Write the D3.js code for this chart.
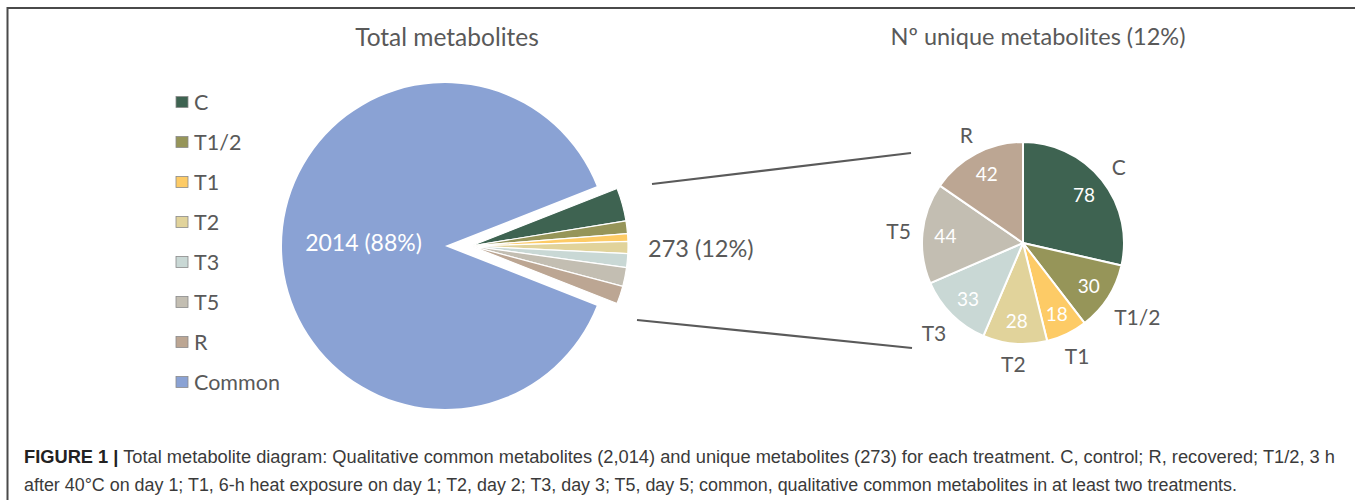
<!DOCTYPE html>
<html>
<head>
<meta charset="utf-8">
<script src="https://cdn.jsdelivr.net/npm/d3@7"></script>
<style>
  html, body { margin: 0; padding: 0; background: #fff; }
  svg { display: block; }
</style>
</head>
<body>
<svg id="chart" width="1355" height="500"></svg>
<script>
// ---------- data ----------
const categories = ["C", "T1/2", "T1", "T2", "T3", "T5", "R"];
const uniqueValues = [78, 30, 18, 28, 33, 44, 42];
const commonCategory = "Common";
const commonValue = 2014;
const legendLabels = ["C", "T1/2", "T1", "T2", "T3", "T5", "R", "Common"];
const titles = ["Total metabolites", "Nº unique metabolites"];
const captionBold = "FIGURE 1 |";
const captionLines = [
  " Total metabolite diagram: Qualitative common metabolites (2,014) and unique metabolites (273) for each treatment. C, control; R, recovered; T1/2, 3 h",
  "after 40°C on day 1; T1, 6-h heat exposure on day 1; T2, day 2; T3, day 3; T5, day 5; common, qualitative common metabolites in at least two treatments."
];

// ---------- styles ----------
const palette = ["#3e6351", "#969559", "#fdcb66", "#e1d39b", "#c9d8d5", "#c3beb2", "#bca693"];
const commonColor = "#8aa2d4";
const textColor = "#595959";
const font = "Lato, 'Open Sans', sans-serif";

const svg = d3.select("#chart");

// frame
svg.append("path").attr("d", "M7.5,500 V8 H1355")
  .attr("fill", "none").attr("stroke", "#4a4a4a").attr("stroke-width", 2);

const uniqueTotal = d3.sum(uniqueValues);
const total = uniqueTotal + commonValue;
const pct = v => Math.round(v / total * 100) + "%";

// ---------- left pie ----------
const L = { cx: 445, cy: 246, rCommon: 163, rUnique: 157, explode: 26 };
const leftData = uniqueValues.map((v, i) => ({ name: categories[i], value: v, color: palette[i], unique: true }))
  .concat([{ name: commonCategory, value: commonValue, color: commonColor, unique: false }]);
const uniqueSpan = uniqueTotal / total * 2 * Math.PI;
const a0 = Math.PI / 2 - uniqueSpan / 2;
const leftPie = d3.pie().sort(null).value(d => d.value).startAngle(a0).endAngle(a0 + 2 * Math.PI);
const leftArcs = leftPie(leftData);
const arcCommon = d3.arc().innerRadius(0).outerRadius(L.rCommon);
const arcUnique = d3.arc().innerRadius(0).outerRadius(L.rUnique);
const midU = a0 + uniqueSpan / 2;
const ux = L.cx + L.explode * Math.sin(midU), uy = L.cy - L.explode * Math.cos(midU);

const gL = svg.append("g");
gL.selectAll("path.common").data(leftArcs.filter(d => !d.data.unique)).join("path")
  .attr("transform", `translate(${L.cx},${L.cy})`)
  .attr("d", arcCommon).attr("fill", d => d.data.color);
gL.selectAll("path.uniq").data(leftArcs.filter(d => d.data.unique)).join("path")
  .attr("transform", `translate(${ux},${uy})`)
  .attr("d", arcUnique).attr("fill", d => d.data.color)
  .attr("stroke", "#fff").attr("stroke-width", 1.2).attr("stroke-linejoin", "round");

// labels left
const commonArc = leftArcs.find(d => !d.data.unique);
const cMid = (commonArc.startAngle + commonArc.endAngle) / 2;
gL.append("text")
  .attr("x", L.cx + L.rCommon * 0.5 * Math.sin(cMid))
  .attr("y", L.cy - L.rCommon * 0.5 * Math.cos(cMid) - 4)
  .attr("text-anchor", "middle").attr("dominant-baseline", "central")
  .attr("fill", "#fff").style("font-family", font).style("font-size", "23px")
  .text(`${commonValue} (${pct(commonValue)})`);
gL.append("text")
  .attr("x", ux + L.rUnique + 20).attr("y", uy + 2)
  .attr("dominant-baseline", "central")
  .attr("fill", textColor).style("font-family", font).style("font-size", "23.5px")
  .text(`${uniqueTotal} (${pct(uniqueTotal)})`);

// ---------- right pie ----------
const R = { cx: 1023, cy: 243, r: 101 };
const rightData = uniqueValues.map((v, i) => ({ name: categories[i], value: v, color: palette[i] }));
const rightArcs = d3.pie().sort(null).value(d => d.value)(rightData);
const arcR = d3.arc().innerRadius(0).outerRadius(R.r);
const gR = svg.append("g").attr("transform", `translate(${R.cx},${R.cy})`);
gR.selectAll("path").data(rightArcs).join("path")
  .attr("d", arcR).attr("fill", d => d.data.color)
  .attr("stroke", "#fff").attr("stroke-width", 2).attr("stroke-linejoin", "round");
const labR = d3.arc().innerRadius(78).outerRadius(78);
gR.selectAll("text.val").data(rightArcs).join("text").attr("class", "val")
  .attr("transform", d => `translate(${labR.centroid(d)})`)
  .attr("text-anchor", "middle").attr("dominant-baseline", "central")
  .attr("fill", "#fff").style("font-family", font).style("font-size", "19px")
  .text(d => d.value);
const outer = gR.selectAll("text.cat").data(rightArcs).join("text").attr("class", "cat")
  .attr("text-anchor", "middle").attr("dominant-baseline", "central")
  .attr("fill", textColor).style("font-family", font).style("font-size", "21px")
  .text(d => d.data.name);
outer.each(function(d) {
  const w = this.getComputedTextLength() / 2, h = 8;
  const a = (d.startAngle + d.endAngle) / 2;
  const s = Math.sin(a), c = Math.cos(a);
  const dist = R.r + 11 + w * Math.abs(s) + h * Math.abs(c);
  d3.select(this).attr("x", dist * s).attr("y", -dist * c);
});

// connector lines
const lineColor = "#5a5a5a";
const connectors = [
  [[ux + L.rUnique + 24, uy - 62], [R.cx - 112, R.cy - 90]],
  [[ux + L.rUnique + 9, uy + 74], [R.cx - 111, R.cy + 105]]
];
svg.selectAll("line.conn").data(connectors).join("line").attr("class", "conn")
  .attr("x1", d => d[0][0]).attr("y1", d => d[0][1])
  .attr("x2", d => d[1][0]).attr("y2", d => d[1][1])
  .attr("stroke", lineColor).attr("stroke-width", 2.2);

// titles
svg.append("text").attr("x", 447).attr("y", 36).attr("text-anchor", "middle")
  .attr("dominant-baseline", "central").attr("fill", textColor)
  .style("font-family", font).style("font-size", "24.5px").text(titles[0]);
svg.append("text").attr("x", 1038).attr("y", 36).attr("text-anchor", "middle")
  .attr("dominant-baseline", "central").attr("fill", textColor)
  .style("font-family", font).style("font-size", "23.5px").text(`${titles[1]} (${pct(uniqueTotal)})`);

// legend
const legendColors = palette.concat([commonColor]);
const lg = svg.append("g").attr("transform", "translate(176,102)");
const items = lg.selectAll("g").data(legendLabels).join("g")
  .attr("transform", (d, i) => `translate(0,${i * 40})`);
items.append("rect").attr("x", 0).attr("y", -5.5).attr("width", 12).attr("height", 11)
  .attr("fill", (d, i) => legendColors[i]).attr("stroke", "#8a8a8a").attr("stroke-width", 0.8);
items.append("text").attr("x", 18).attr("y", 0).attr("dominant-baseline", "central")
  .attr("fill", textColor).style("font-family", font).style("font-size", "21.5px").text(d => d);

// caption
const capFont = "'Liberation Sans Narrow', 'Arial Narrow', 'Liberation Sans', Arial, sans-serif";
const cap1 = svg.append("text").attr("x", 24).attr("y", 463)
  .attr("fill", "#3a3a3a").style("font-family", capFont).style("font-size", "17.5px")
  .attr("textLength", 1311).attr("lengthAdjust", "spacingAndGlyphs");
cap1.append("tspan").style("font-weight", "bold").attr("fill", "#222").text(captionBold);
cap1.append("tspan").text(captionLines[0]);
svg.append("text").attr("x", 24).attr("y", 491)
  .attr("fill", "#3a3a3a").style("font-family", capFont).style("font-size", "17.5px")
  .attr("textLength", 1213).attr("lengthAdjust", "spacingAndGlyphs")
  .text(captionLines[1]);
</script>
</body>
</html>
